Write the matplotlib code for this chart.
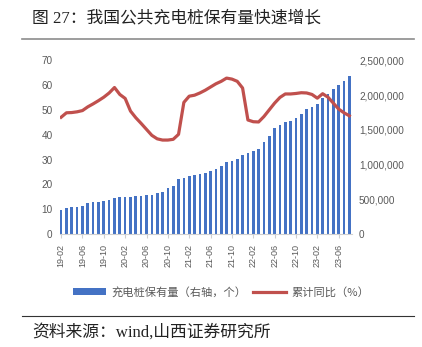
import matplotlib
matplotlib.use("Agg")
import matplotlib.pyplot as plt
import numpy as np
import pandas as pd
from matplotlib.patches import Patch
from matplotlib.lines import Line2D

# public charging piles (count, right axis)
piles = [349e3, 378e3, 392e3, 395e3, 406e3, 450e3, 454e3, 464e3, 474e3, 493e3,
         512e3, 526e3, 531e3, 540e3, 546e3, 546e3, 555e3, 565e3, 589e3, 598e3,
         661e3, 690e3, 799e3, 805e3, 833e3, 848e3, 866e3, 881e3, 914e3, 943e3,
         981e3, 1039e3, 1058e3, 1086e3, 1139e3, 1172e3, 1201e3, 1228e3, 1331e3, 1412e3,
         1523e3, 1570e3, 1618e3, 1628e3, 1675e3, 1728e3, 1796e3, 1833e3, 1872e3, 1954e3,
         2020e3, 2083e3, 2145e3, 2207e3, 2274e3]
# cumulative yoy growth (%, left axis)
yoy = [47.1, 48.9, 49.0, 49.3, 49.8, 51.3, 52.5, 53.8, 55.2, 56.9,
       59.1, 56.3, 54.7, 49.6, 46.9, 44.6, 42.2, 39.8, 38.4, 37.9,
       37.9, 38.2, 40.2, 53.1, 55.6, 56.0, 56.9, 58.0, 59.3, 60.6,
       61.6, 62.9, 62.5, 61.6, 58.9, 46.0, 45.3, 45.2, 47.4, 50.1,
       52.8, 55.1, 56.5, 56.5, 56.7, 57.0, 56.9, 56.3, 54.8, 56.6,
       55.2, 52.8, 50.4, 48.9, 47.7]
months = pd.date_range("2019-02", periods=len(piles), freq="MS").strftime("%y-%m").tolist()
tick_labels = ["19-02", "19-06", "19-10", "20-02", "20-06", "20-10", "21-02",
               "21-06", "21-10", "22-02", "22-06", "22-10", "23-02", "23-06"]
left_ticks = [0, 10, 20, 30, 40, 50, 60, 70]
right_ticks = [0, 500000, 1000000, 1500000, 2000000, 2500000]

title = "图 27：我国公共充电桩保有量快速增长"
source = "资料来源：wind,山西证券研究所"
bar_name = "充电桩保有量（右轴，个）"
line_name = "累计同比（%）"

CJK = ["Liberation Serif", "Noto Sans CJK SC"]
LEG = ["Noto Sans CJK SC", "DejaVu Sans"]
TICK = "Liberation Sans"
GREY = "#595959"
BLUE = "#4472C4"
RED = "#C0504D"

W, H = 422, 347
fig = plt.figure(figsize=(W / 100, H / 100), dpi=100)
ax = fig.add_axes([59.5 / W, 1 - 234 / H, (352 - 59.5) / W, (234 - 60.5) / H])
ax2 = ax.twinx()

x = np.arange(len(months))
ax2.bar(x, piles, width=0.5, color=BLUE, zorder=1)
ax.plot(x, yoy, color=RED, lw=2.3, solid_joinstyle="round", zorder=3)

ax.set_zorder(2)
ax2.set_zorder(1)
ax.patch.set_visible(False)

ax.set_xlim(-0.3, len(months) - 0.5)
ax.set_ylim(0, 70)
ax2.set_ylim(0, 2500000)

ax.set_yticks(left_ticks)
ax.set_yticklabels([str(v) for v in left_ticks])
ax2.set_yticks(right_ticks)
ax2.set_yticklabels([f"{v:,}" for v in right_ticks])

pos = [months.index(t) for t in tick_labels]
ax.set_xticks(pos)
ax.set_xticklabels(tick_labels, rotation=90, va="top", ha="center")

for a in (ax, ax2):
    for s in a.spines.values():
        s.set_visible(False)
ax.spines["bottom"].set_visible(True)
ax.spines["bottom"].set_color("#d0d0d0")
ax.spines["bottom"].set_linewidth(0.8)

ax.tick_params(axis="x", length=3, width=0.8, color="#d0d0d0", pad=4,
               labelsize=6.5, labelcolor=GREY)
ax.tick_params(axis="y", length=0, pad=5, labelsize=7.2, labelcolor=GREY)
ax2.tick_params(axis="y", length=0, pad=5, labelsize=7.2, labelcolor=GREY)
for lab in ax.get_xticklabels() + ax.get_yticklabels() + ax2.get_yticklabels():
    lab.set_fontfamily(TICK)

# legend
handles = [Patch(facecolor=BLUE, edgecolor="none"),
           Line2D([0], [0], color=RED, lw=2.3)]
fig.legend(handles, [bar_name, line_name], loc="center",
           bbox_to_anchor=(221 / W, 1 - 292 / H), ncol=2, frameon=False,
           handlelength=2.9, handleheight=0.6, handletextpad=0.5,
           columnspacing=0.6, prop={"family": LEG, "size": 8.1},
           labelcolor=GREY)

# title, rules, source
fig.text(32 / W, 1 - 18 / H, title, family=CJK, fontsize=12.1,
         color="#222222", va="center", ha="left")
fig.add_artist(Line2D([22 / W, 414 / W], [1 - 38.5 / H, 1 - 38.5 / H],
                      color="#8c8c8c", lw=1.2))
fig.add_artist(Line2D([22 / W, 414 / W], [1 - 316 / H, 1 - 316 / H],
                      color="#333333", lw=0.8))
fig.text(32 / W, 1 - 332 / H, source, family=CJK, fontsize=12.1,
         color="#222222", va="center", ha="left")

fig.savefig("out.png", dpi=100)
